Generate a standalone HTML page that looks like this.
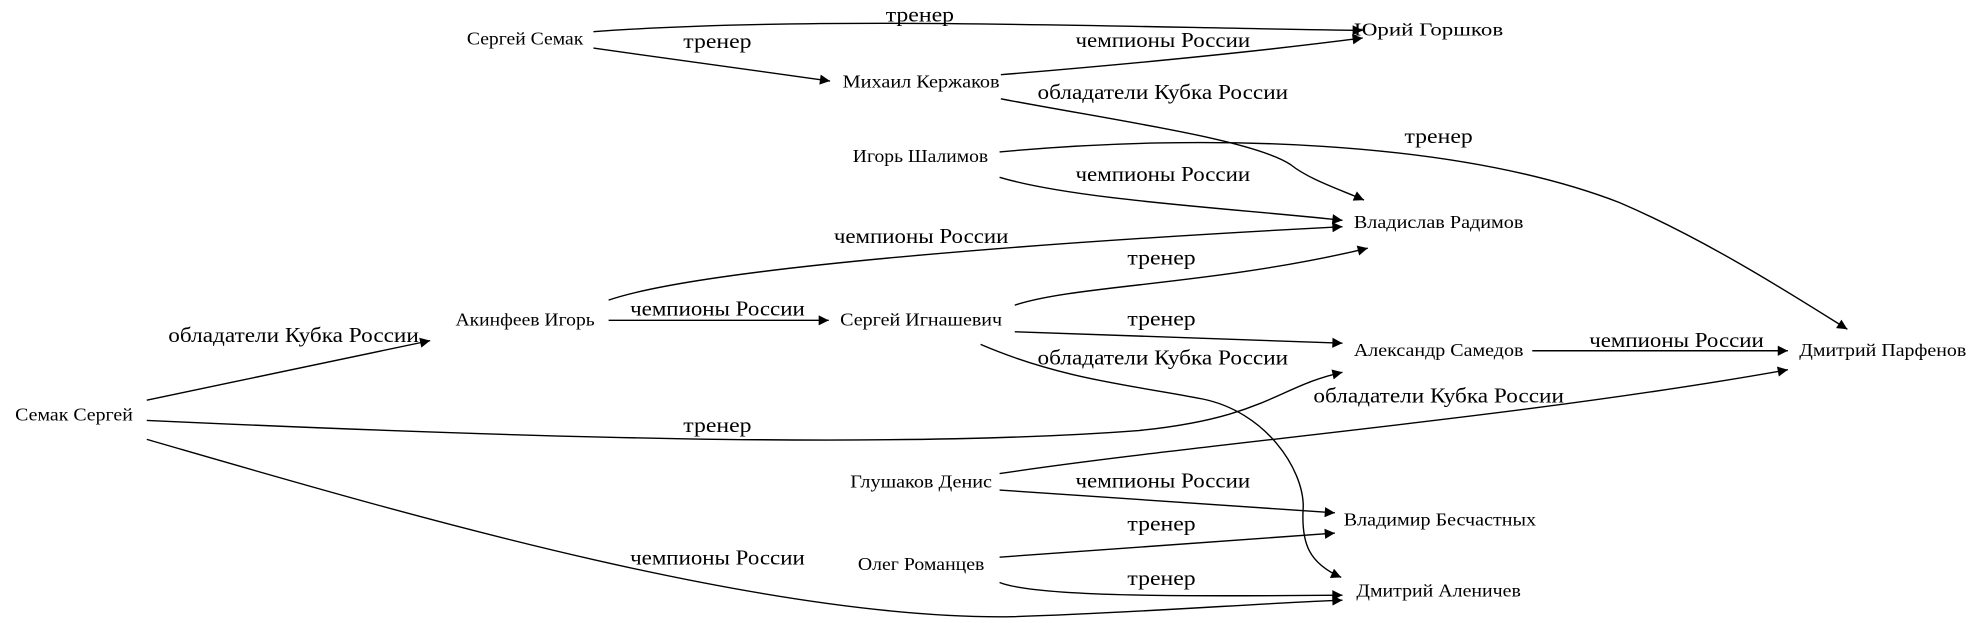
<!DOCTYPE html>
<html><head><meta charset="utf-8"><style>
html,body{margin:0;padding:0;background:#fff;}
svg{display:block;}
text{font-family:"Liberation Serif","DejaVu Serif",serif;fill:#000;}
.n{font-size:14.5px;}
.e{font-size:16.5px;text-anchor:middle;}
path{fill:none;stroke:#000;stroke-width:1.1;}
</style></head><body>
<svg width="1984" height="623" viewBox="0 0 1568 492" preserveAspectRatio="none" xmlns="http://www.w3.org/2000/svg">
<defs><marker id="a" viewBox="0 0 10 10" refX="10" refY="5" markerWidth="10" markerHeight="8" markerUnits="userSpaceOnUse" orient="auto"><path d="M0,0L10,5L0,10z" style="fill:#000;stroke:none"/></marker></defs>
<g class="n" lengthAdjust="spacingAndGlyphs">
<text x="369" y="35" textLength="92" lengthAdjust="spacingAndGlyphs">Сергей Семак</text>
<text x="1070" y="28" textLength="118" lengthAdjust="spacingAndGlyphs">Юрий Горшков</text>
<text x="666" y="69" textLength="124" lengthAdjust="spacingAndGlyphs">Михаил Кержаков</text>
<text x="674" y="128" textLength="107" lengthAdjust="spacingAndGlyphs">Игорь Шалимов</text>
<text x="1070" y="180" textLength="134" lengthAdjust="spacingAndGlyphs">Владислав Радимов</text>
<text x="360" y="257" textLength="110" lengthAdjust="spacingAndGlyphs">Акинфеев Игорь</text>
<text x="664" y="257" textLength="128" lengthAdjust="spacingAndGlyphs">Сергей Игнашевич</text>
<text x="1070" y="281" textLength="134" lengthAdjust="spacingAndGlyphs">Александр Самедов</text>
<text x="1422" y="281" textLength="132" lengthAdjust="spacingAndGlyphs">Дмитрий Парфенов</text>
<text x="12" y="332" textLength="93" lengthAdjust="spacingAndGlyphs">Семак Сергей</text>
<text x="672" y="385" textLength="112" lengthAdjust="spacingAndGlyphs">Глушаков Денис</text>
<text x="1062" y="415" textLength="152" lengthAdjust="spacingAndGlyphs">Владимир Бесчастных</text>
<text x="678" y="450" textLength="100" lengthAdjust="spacingAndGlyphs">Олег Романцев</text>
<text x="1072" y="471" textLength="130" lengthAdjust="spacingAndGlyphs">Дмитрий Аленичев</text>
</g>
<g marker-end="url(#a)">
<path d="M469,25 C650,12 900,22 1077,24"/>
<path d="M469,38 L656,64"/>
<path d="M791,59 C900,50 1000,40 1077,30"/>
<path d="M791,78 C880,95 990,110 1020,130 C1035,142 1060,150 1078,158"/>
<path d="M790,120 C950,105 1150,110 1280,160 C1350,190 1420,235 1460,260"/>
<path d="M790,140 C850,158 980,165 1061,174"/>
<path d="M481,237 C560,210 850,190 1061,179"/>
<path d="M481,253 L655,253"/>
<path d="M802,241 C850,225 960,225 1081,196"/>
<path d="M802,262 L1061,271"/>
<path d="M775,272 C840,300 900,305 950,315 C1000,325 1030,370 1030,400 C1028,430 1035,445 1060,456"/>
<path d="M1211,277 L1413,277"/>
<path d="M116,316 L340,269"/>
<path d="M116,332 C400,345 700,355 900,340 C1000,330 1010,305 1061,294"/>
<path d="M116,347 C300,400 600,490 800,487 C900,484 1000,476 1061,474"/>
<path d="M790,374 C950,350 1200,330 1413,292"/>
<path d="M790,387 L1055,405"/>
<path d="M790,440 L1055,421"/>
<path d="M790,460 C820,472 950,471 1061,470"/>
</g>
<g class="e">
<text x="727" y="17" textLength="54" lengthAdjust="spacingAndGlyphs">тренер</text>
<text x="567" y="38" textLength="54" lengthAdjust="spacingAndGlyphs">тренер</text>
<text x="919" y="37" textLength="138" lengthAdjust="spacingAndGlyphs">чемпионы России</text>
<text x="919" y="78" textLength="198" lengthAdjust="spacingAndGlyphs">обладатели Кубка России</text>
<text x="1137" y="113" textLength="54" lengthAdjust="spacingAndGlyphs">тренер</text>
<text x="919" y="143" textLength="138" lengthAdjust="spacingAndGlyphs">чемпионы России</text>
<text x="728" y="192" textLength="138" lengthAdjust="spacingAndGlyphs">чемпионы России</text>
<text x="567" y="249" textLength="138" lengthAdjust="spacingAndGlyphs">чемпионы России</text>
<text x="918" y="209" textLength="54" lengthAdjust="spacingAndGlyphs">тренер</text>
<text x="918" y="257" textLength="54" lengthAdjust="spacingAndGlyphs">тренер</text>
<text x="919" y="288" textLength="198" lengthAdjust="spacingAndGlyphs">обладатели Кубка России</text>
<text x="1325" y="274" textLength="138" lengthAdjust="spacingAndGlyphs">чемпионы России</text>
<text x="232" y="270" textLength="198" lengthAdjust="spacingAndGlyphs">обладатели Кубка России</text>
<text x="567" y="341" textLength="54" lengthAdjust="spacingAndGlyphs">тренер</text>
<text x="567" y="446" textLength="138" lengthAdjust="spacingAndGlyphs">чемпионы России</text>
<text x="1137" y="318" textLength="198" lengthAdjust="spacingAndGlyphs">обладатели Кубка России</text>
<text x="919" y="385" textLength="138" lengthAdjust="spacingAndGlyphs">чемпионы России</text>
<text x="918" y="419" textLength="54" lengthAdjust="spacingAndGlyphs">тренер</text>
<text x="918" y="462" textLength="54" lengthAdjust="spacingAndGlyphs">тренер</text>
</g>
</svg>
</body></html>
